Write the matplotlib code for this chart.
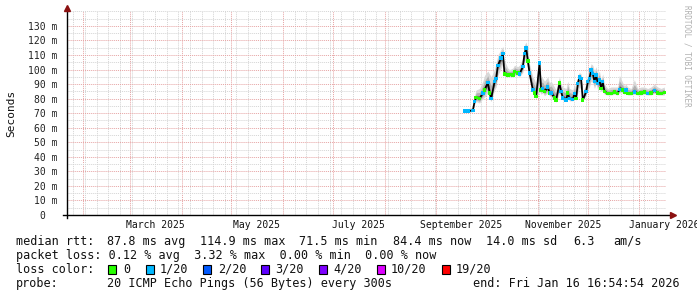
import numpy as np
import pandas as pd
import matplotlib
matplotlib.use("Agg")
import matplotlib.pyplot as plt
import matplotlib.dates as mdates
from matplotlib.patches import Rectangle
from matplotlib.ticker import MultipleLocator, FixedLocator, FuncFormatter

# median rtt samples (ms), loss class per sample, smoke spread (ms)
dates = ["2025-09-18", "2025-09-20", "2025-09-23", "2025-09-24", "2025-09-25",
         "2025-09-27", "2025-09-29", "2025-09-30", "2025-10-02", "2025-10-03",
         "2025-10-04", "2025-10-06", "2025-10-07", "2025-10-08", "2025-10-10",
         "2025-10-11", "2025-10-12", "2025-10-14", "2025-10-15", "2025-10-17",
         "2025-10-18", "2025-10-20", "2025-10-21", "2025-10-23", "2025-10-24",
         "2025-10-25", "2025-10-26", "2025-10-27", "2025-10-29", "2025-10-30",
         "2025-10-31", "2025-11-02", "2025-11-03", "2025-11-04", "2025-11-05",
         "2025-11-07", "2025-11-08", "2025-11-09", "2025-11-11", "2025-11-12",
         "2025-11-14", "2025-11-15", "2025-11-16", "2025-11-18", "2025-11-19",
         "2025-11-20", "2025-11-22", "2025-11-23", "2025-11-24", "2025-11-25",
         "2025-11-26", "2025-11-27", "2025-11-28", "2025-11-30", "2025-12-01",
         "2025-12-02", "2025-12-03", "2025-12-04", "2025-12-05", "2025-12-06",
         "2025-12-07", "2025-12-08", "2025-12-09", "2025-12-10", "2025-12-11",
         "2025-12-13", "2025-12-15", "2025-12-17", "2025-12-19", "2025-12-20",
         "2025-12-22", "2025-12-23", "2025-12-24", "2025-12-25", "2025-12-27",
         "2025-12-29", "2025-12-31", "2026-01-02", "2026-01-04", "2026-01-06",
         "2026-01-08", "2026-01-10", "2026-01-12", "2026-01-14", "2026-01-16"]
median = [71.5, 71.5, 72, 78, 81, 80, 84, 86, 91, 84,
          80, 91.7, 94, 103, 108, 111, 97, 96.3, 96.5, 96.3,
          98.6, 97.6, 97, 102, 111, 114.9, 106, 97.6, 86, 84,
          81.4, 104.5, 86, 87, 84.8, 88, 84, 84, 80.5, 79,
          90.8, 84.8, 80.5, 79, 84, 80, 79.5, 83.7, 80, 90.5,
          95, 94, 79, 84.8, 91.7, 94, 99.7, 97.4, 91.7, 96.3,
          90.5, 92.8, 87, 91.7, 84.8, 83.7, 83.7, 84.5, 83.7, 86.5,
          86, 84.5, 86, 83.7, 83.7, 84.5, 83.7, 84, 84.5, 83.7,
          84, 85.7, 84, 83.7, 84.4]
loss = ["1/20", "1/20", "1/20", "1/20", "0", "0", "1/20", "0", "1/20", "0",
        "1/20", "1/20", "1/20", "1/20", "1/20", "1/20", "0", "0", "0", "0",
        "0", "0", "1/20", "1/20", "1/20", "1/20", "0", "1/20", "1/20", "0",
        "0", "1/20", "0", "1/20", "0", "1/20", "0", "1/20", "0", "0",
        "0", "1/20", "1/20", "1/20", "0", "1/20", "1/20", "1/20", "0", "1/20",
        "1/20", "1/20", "0", "1/20", "1/20", "1/20", "1/20", "1/20", "1/20", "1/20",
        "1/20", "1/20", "0", "1/20", "0", "0", "0", "0", "0", "1/20",
        "0", "0", "1/20", "0", "0", "1/20", "0", "0", "0", "1/20",
        "0", "1/20", "0", "0", "0"]
smoke_lo = [70.5, 70.5, 71, 76, 78, 77, 80, 81, 84, 80,
            78, 86, 88, 96, 101, 104, 95, 95, 95, 95,
            96, 96, 95, 98, 105, 108, 100, 94, 83, 82,
            80, 85, 83, 84, 82, 84, 82, 81, 79, 77.5,
            84, 82, 79, 78, 81, 78.5, 78.5, 80, 79, 84,
            88, 86, 78.5, 82, 86, 88, 92, 91, 87, 90,
            86, 87, 85, 86, 83, 82.5, 82.5, 83, 82.5, 84,
            84, 83, 84, 82.5, 82.5, 83, 82.5, 82.5, 83, 82.5,
            82.5, 83.5, 82.5, 82.5, 82.5]
smoke_hi = [73, 73, 74, 82, 86, 87, 92, 96, 99, 97,
            95, 100, 105, 110, 114, 116, 106, 101, 100, 101,
            103, 102, 103, 108, 117, 119, 114, 104, 95, 93,
            90, 107, 95, 94, 92, 95, 91, 92, 88, 86,
            95, 90, 88, 87, 92, 87, 86, 90, 86, 96,
            98, 97, 85, 90, 97, 100, 104, 103, 99, 102,
            97, 99, 93, 97, 90, 87, 88, 88, 88, 96,
            91, 89, 90, 88, 87, 93, 87, 88, 88, 87,
            88, 90, 88, 87, 88]

loss_labels = ["0", "1/20", "2/20", "3/20", "4/20", "10/20", "19/20"]
loss_colors = ["#26ff00", "#00b8ff", "#0059ff", "#5e00ff", "#7e00ff", "#dd00ff", "#ff0000"]
month_labels = ["March 2025", "May 2025", "July 2025", "September 2025",
                "November 2025", "January 2026"]
label_dates = ["2025-03-16", "2025-05-16", "2025-07-16", "2025-09-16",
               "2025-11-16", "2026-01-16"]

MONO = "DejaVu Sans Mono"
W, H = 697, 297

t = pd.to_datetime(dates)
med = np.array(median)
lo = np.array(smoke_lo)
hi = np.array(smoke_hi)
cmap = dict(zip(loss_labels, loss_colors))

fig = plt.figure(figsize=(W / 100, H / 100), dpi=100)
fig.patch.set_facecolor("white")
ax = fig.add_axes([67 / W, (H - 215) / H, 598.5 / W, 203.6 / H])

# smoke: lighter outside, darker towards the median
ax.fill_between(t, lo, hi, color="#d8d8d8", lw=0, zorder=2)
ax.fill_between(t, med - (med - lo) * 0.6, med + (hi - med) * 0.6,
                color="#b0b0b0", lw=0, zorder=2)
ax.fill_between(t, med - (med - lo) * 0.25, med + (hi - med) * 0.25,
                color="#5a5a5a", lw=0, zorder=2)

ax.plot(t, med, color="black", lw=1.2, zorder=3)
ax.scatter(t, med, c=[cmap[l] for l in loss], marker="s", s=6, lw=0, zorder=4)

ax.set_xlim(pd.Timestamp("2025-01-22 05:00"), pd.Timestamp("2026-01-16 16:54:54"))
ax.set_ylim(0, 140)

ax.xaxis.set_major_locator(mdates.MonthLocator())
ax.xaxis.set_minor_locator(mdates.WeekdayLocator(byweekday=mdates.SU))
ax.xaxis.set_major_formatter(FuncFormatter(lambda v, p: ""))
ax.yaxis.set_major_locator(FixedLocator(np.arange(0, 131, 10)))
ax.yaxis.set_minor_locator(MultipleLocator(5))
ax.yaxis.set_major_formatter(FuncFormatter(lambda v, p: "0  " if v == 0 else "%d m" % v))

ax.set_axisbelow(True)
ax.grid(which="minor", color="#d4d4d4", ls=(0, (1, 1)), lw=0.7)
ax.grid(which="major", color="#e6a3a3", ls=(0, (1, 1)), lw=0.7)
ax.tick_params(which="both", length=0)
ax.tick_params(axis="y", pad=7, labelsize=7, labelcolor="#222222")
for lab in ax.get_yticklabels():
    lab.set_family(MONO)

for s in ["top", "right", "left", "bottom"]:
    ax.spines[s].set_visible(False)

# axes with arrows
ax.plot([-0.006, 1.01], [0, 0], transform=ax.transAxes, color="black", lw=1,
        clip_on=False, zorder=5)
ax.plot([0, 0], [-0.015, 1.01], transform=ax.transAxes, color="black", lw=1,
        clip_on=False, zorder=5)
ax.plot([1.012], [0], transform=ax.transAxes, marker=">", ms=4, color="#8b1010",
        clip_on=False, zorder=6)
ax.plot([0], [1.015], transform=ax.transAxes, marker="^", ms=4, color="#8b1010",
        clip_on=False, zorder=6)

trans = matplotlib.transforms.blended_transform_factory(ax.transData, fig.transFigure)
for d, lab in zip(label_dates, month_labels):
    ax.text(pd.Timestamp(d), 1 - 225 / H, lab, transform=trans, ha="center",
            va="center", fontsize=7, family=MONO, color="#111111", clip_on=False)

fig.text(11 / W, 1 - 113 / H, "Seconds", rotation=90, ha="center", va="center",
         fontsize=8, family=MONO, color="#111111")
fig.text(687 / W, 1 - 5 / H, "RRDTOOL / TOBI OETIKER", rotation=-90, ha="center",
         va="top", fontsize=5.5, family=MONO, color="#b0b0b0")

# legend block
def ftxt(x, y, s, **kw):
    fig.text(x / W, 1 - y / H, s, va="center", fontsize=8.5, family=MONO,
             color="#111111", **kw)

y1, y2, y3, y4 = 241.5, 255.5, 269.5, 283.5
for x, s in zip([16, 107, 200, 299, 393, 486, 573, 613],
                ["median rtt:", "87.8 ms avg", "114.9 ms max", "71.5 ms min",
                 "84.4 ms now", "14.0 ms sd", "6.3", "am/s"]):
    ftxt(x, y1, s)
ftxt(16, y2, "packet loss: 0.12 % avg  3.32 % max  0.00 % min  0.00 % now")
ftxt(16, y3, "loss color:")
box_x = [108, 146, 203, 261, 319, 377, 442]
txt_x = [123, 160, 218, 275, 333, 391, 456]
for bx, tx, lab, col in zip(box_x, txt_x, loss_labels, loss_colors):
    fig.add_artist(Rectangle((bx / W, 1 - 274 / H), 8 / W, 9 / H, transform=fig.transFigure,
                             facecolor=col, edgecolor="black", lw=0.8))
    ftxt(tx, y3, lab)
ftxt(16, y4, "probe:")
ftxt(107, y4, "20 ICMP Echo Pings (56 Bytes) every 300s")
ftxt(680, y4, "end: Fri Jan 16 16:54:54 2026", ha="right")

fig.savefig("out.png", dpi=100, facecolor="white")
